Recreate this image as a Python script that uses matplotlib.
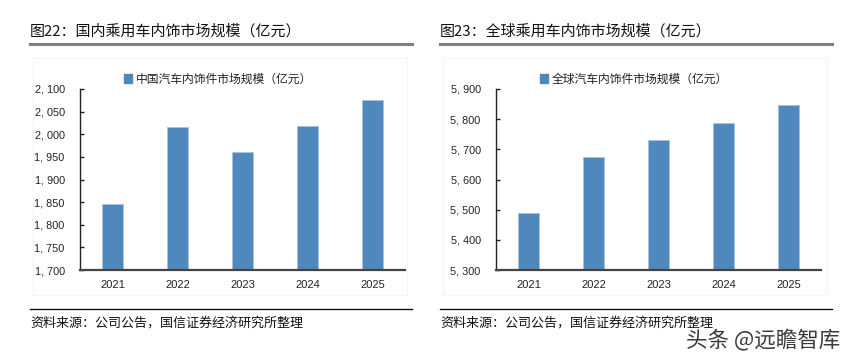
import matplotlib
matplotlib.use("Agg")
import matplotlib.pyplot as plt
from matplotlib.lines import Line2D
from matplotlib.patches import Rectangle
from matplotlib.ticker import FuncFormatter

plt.rcParams["font.family"] = ["Noto Sans CJK SC", "DejaVu Sans"]

years = ["2021", "2022", "2023", "2024", "2025"]
china_values = [1846, 2016, 1961, 2018, 2076]
global_values = [5489, 5675, 5731, 5787, 5847]

china_ylim = (1700, 2100)
china_step = 50
global_ylim = (5300, 5900)
global_step = 100

titles = ["图22：国内乘用车内饰市场规模（亿元）", "图23：全球乘用车内饰市场规模（亿元）"]
legends = ["中国汽车内饰件市场规模（亿元）", "全球汽车内饰件市场规模（亿元）"]
source = "资料来源：公司公告，国信证券经济研究所整理"
watermark = "头条 @远瞻智库"

BAR = "#4f88bc"
W, H = 850, 364


def fx(px):
    return px / W


def fy(py):
    return 1 - py / H


fig = plt.figure(figsize=(8.5, 3.64), dpi=100)
fig.patch.set_facecolor("white")

panels = [
    dict(x0=30, x1=412, ax_left=80, values=china_values, ylim=china_ylim, step=china_step,
         title=titles[0], legend=legends[0]),
    dict(x0=440, x1=832, ax_left=496, values=global_values, ylim=global_ylim, step=global_step,
         title=titles[1], legend=legends[1]),
]

for p in panels:
    # faint chart-area frame, kept behind everything
    fig.add_artist(Rectangle((fx(p["x0"] + 3), fy(295)), fx(p["x1"] - p["x0"] - 8), 237 / H,
                             transform=fig.transFigure, fill=False, edgecolor="#f3f3f3",
                             lw=0.6, zorder=-5))

    ax = fig.add_axes([fx(p["ax_left"]), fy(270), fx(325), 181 / H])
    ax.patch.set_alpha(0)
    ax.bar(years, p["values"], width=0.33, color=BAR, edgecolor="#a7c3e0", linewidth=0.7,
           label=p["legend"])
    lo, hi = p["ylim"]
    ax.set_ylim(lo, hi)
    ax.set_yticks(range(lo, hi + 1, p["step"]))
    ax.yaxis.set_major_formatter(FuncFormatter(lambda v, _: f"{int(v):,}".replace(",", ", ")))
    ax.set_xlim(-0.5, len(years) - 0.5)

    for side in ["top", "right"]:
        ax.spines[side].set_visible(False)
    ax.spines["left"].set_color("#222222")
    ax.spines["left"].set_linewidth(1.0)
    ax.spines["bottom"].set_color("#444444")
    ax.spines["bottom"].set_linewidth(1.6)
    ax.tick_params(axis="y", direction="in", length=3, width=1, color="#222222",
                   labelsize=7.8, labelcolor="#222222", pad=11)
    ax.tick_params(axis="x", length=0, labelsize=8, labelcolor="#222222", pad=7)
    for lab in ax.get_xticklabels() + ax.get_yticklabels():
        lab.set_fontfamily(["Liberation Sans", "DejaVu Sans"])

    # legend
    fig.legend(handles=[Rectangle((0, 0), 1, 1, color=BAR)], labels=[p["legend"]],
               loc="center left", bbox_to_anchor=(fx(p["ax_left"] + 44), fy(79)),
               frameon=False, fontsize=8.5, handlelength=0.7, handleheight=0.7,
               handletextpad=0.3, borderaxespad=0, borderpad=0,
               labelcolor="#222222")

    # title and rules
    fig.text(fx(p["x0"]), fy(31), p["title"], fontsize=10.8, color="#111111",
             ha="left", va="center")
    fig.add_artist(Line2D([fx(p["x0"]), fx(p["x1"])], [fy(44), fy(44)],
                          color="#7f7f7f", lw=2.2, transform=fig.transFigure))
    fig.add_artist(Line2D([fx(p["x0"]), fx(p["x1"])], [fy(309), fy(309)],
                          color="#111111", lw=1.0, transform=fig.transFigure))
    fig.text(fx(p["x0"]), fy(323), source, fontsize=9.4, color="#111111",
             ha="left", va="center")

fig.text(fx(840), fy(341), watermark, fontsize=15.5, color="#3a3a3a", ha="right", va="center")

fig.savefig("out.png", dpi=100)
